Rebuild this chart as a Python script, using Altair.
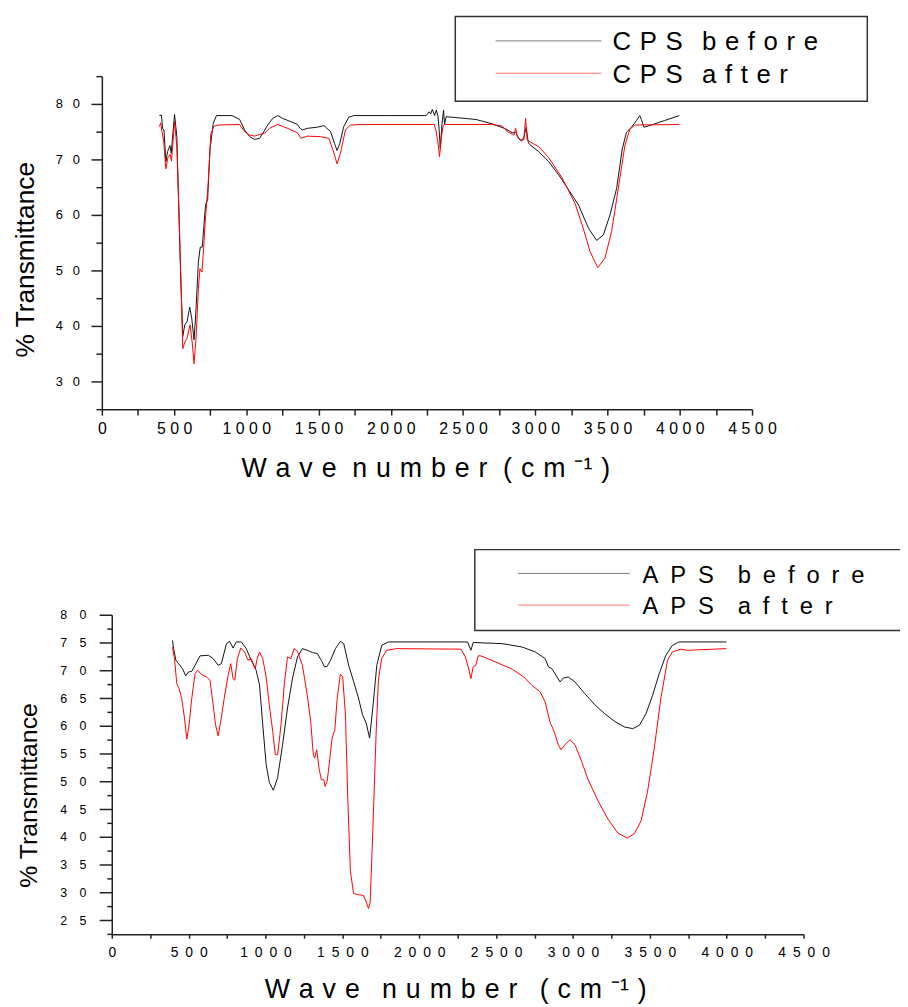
import altair as alt
import pandas as pd

FONT = "Liberation Sans"

# ---------------- data: (wave number cm-1, % transmittance) ----------------
cps_before = [
    (398, 77.9), (412, 78.0), (421, 75.5), (430, 75.3), (443, 69.6), (455, 71.4),
    (471, 72.5), (480, 71.1), (503, 78.1), (519, 74.1), (530, 63.4), (544, 50.3),
    (560, 38.1), (574, 40.2), (590, 40.8), (608, 43.4), (622, 41.4), (638, 37.5),
    (652, 43.1), (668, 51.5), (681, 54.2), (695, 54.2), (706, 58.0), (718, 61.9),
    (732, 62.7), (748, 71.7), (771, 76.5), (793, 77.9), (900, 77.9), (954, 77.2),
    (988, 75.3), (1023, 74.1), (1057, 73.6), (1091, 73.8), (1121, 75.0), (1148, 76.2),
    (1183, 77.4), (1217, 77.9), (1251, 77.4), (1308, 76.8), (1354, 76.3), (1372, 75.6),
    (1388, 75.3), (1422, 75.6), (1491, 75.8), (1537, 76.1), (1583, 75.0), (1610, 72.9),
    (1628, 71.6), (1647, 72.9), (1674, 75.9), (1709, 77.6), (1743, 77.9), (2000, 77.9),
    (2246, 77.9), (2265, 78.6), (2276, 78.2), (2287, 79.0), (2303, 77.9), (2315, 78.9),
    (2326, 77.8), (2333, 75.9), (2342, 72.0), (2354, 76.3), (2365, 78.9), (2372, 76.3),
    (2383, 77.7), (2589, 77.2), (2703, 76.4), (2795, 75.5), (2841, 74.8), (2864, 74.9),
    (2887, 73.7), (2905, 73.3), (2921, 74.0), (2937, 75.8), (2951, 73.1), (2960, 72.7),
    (3024, 71.4), (3093, 69.6), (3162, 67.2), (3231, 64.5), (3299, 61.8), (3368, 57.6),
    (3425, 55.4), (3471, 56.4), (3517, 60.0), (3563, 64.8), (3602, 71.9), (3631, 74.9),
    (3666, 75.8), (3700, 77.0), (3723, 77.9), (3734, 77.2), (3752, 75.8), (3803, 76.2),
    (3894, 77.0), (3997, 77.9),
]
cps_after = [
    (398, 75.9), (407, 76.6), (416, 75.0), (427, 73.5), (443, 68.3), (457, 70.3),
    (473, 70.9), (482, 69.7), (503, 76.8), (519, 72.3), (535, 59.8), (549, 46.7),
    (560, 35.9), (576, 37.2), (590, 37.8), (611, 40.2), (627, 36.6), (638, 33.2),
    (652, 37.8), (668, 46.7), (679, 50.3), (693, 49.7), (704, 53.8), (718, 59.8),
    (736, 65.7), (754, 74.6), (777, 76.0), (805, 76.2), (954, 76.3), (988, 75.0),
    (1023, 74.4), (1057, 74.2), (1091, 74.5), (1125, 74.7), (1160, 75.6), (1217, 76.3),
    (1285, 75.6), (1354, 74.8), (1377, 73.8), (1422, 74.2), (1514, 74.1), (1571, 73.8),
    (1601, 71.6), (1628, 69.2), (1651, 71.1), (1686, 75.3), (1720, 76.2), (1800, 76.3),
    (2300, 76.3), (2312, 75.3), (2326, 73.1), (2337, 70.5), (2349, 73.7), (2360, 75.9),
    (2372, 76.3), (2700, 76.3), (2772, 76.0), (2806, 75.0), (2852, 74.4), (2864, 75.6),
    (2876, 74.1), (2898, 73.5), (2921, 73.6), (2933, 77.4), (2944, 73.5), (2967, 73.1),
    (3024, 72.3), (3093, 70.3), (3185, 66.7), (3276, 62.0), (3333, 57.5), (3379, 53.4),
    (3432, 50.5), (3482, 52.2), (3528, 57.0), (3574, 64.7), (3620, 72.5), (3654, 75.4),
    (3689, 76.2), (3997, 76.3),
]
aps_before = [
    (395, 75.4), (402, 73.9), (417, 71.8), (434, 71.2), (460, 70.3), (481, 69.0),
    (499, 69.7), (520, 69.8), (542, 70.9), (574, 72.6), (628, 72.7), (660, 72.1),
    (692, 70.9), (713, 71.2), (746, 74.8), (767, 75.2), (789, 74.0), (810, 75.1),
    (843, 75.1), (875, 73.9), (907, 71.8), (939, 70.0), (961, 67.4), (982, 60.2),
    (1004, 53.1), (1025, 49.8), (1051, 48.4), (1079, 50.7), (1111, 56.6), (1143, 63.2),
    (1176, 68.6), (1208, 72.4), (1240, 73.9), (1272, 73.6), (1305, 73.2), (1337, 73.0),
    (1363, 71.8), (1384, 70.6), (1401, 70.7), (1423, 71.8), (1455, 73.9), (1487, 75.2),
    (1509, 74.8), (1541, 70.9), (1573, 68.0), (1605, 65.0), (1631, 62.0), (1655, 60.5),
    (1677, 57.8), (1698, 63.2), (1724, 70.9), (1756, 74.5), (1799, 75.1), (2315, 75.1),
    (2336, 73.6), (2351, 75.0), (2540, 74.8), (2668, 74.2), (2755, 73.3), (2819, 72.1),
    (2841, 70.6), (2862, 70.3), (2883, 69.4), (2916, 67.9), (2937, 68.6), (2969, 68.8),
    (3013, 67.9), (3077, 65.8), (3142, 63.8), (3206, 62.2), (3271, 60.8), (3335, 59.8),
    (3389, 59.5), (3432, 60.1), (3475, 62.2), (3518, 65.5), (3561, 69.4), (3604, 72.7),
    (3647, 74.5), (3690, 75.1), (3998, 75.1),
]
aps_after = [
    (395, 74.2), (408, 72.1), (423, 67.6), (438, 66.7), (455, 64.9), (473, 61.4),
    (488, 57.6), (503, 60.2), (520, 64.9), (542, 69.4), (559, 70.0), (585, 69.2),
    (617, 68.8), (639, 68.2), (660, 63.7), (675, 60.2), (692, 58.2), (709, 60.8),
    (731, 64.9), (757, 69.1), (774, 71.2), (789, 68.5), (800, 68.2), (817, 72.1),
    (839, 74.0), (864, 73.3), (886, 71.8), (907, 72.1), (933, 70.3), (946, 72.1),
    (961, 73.3), (982, 72.1), (1004, 68.8), (1025, 63.7), (1047, 59.0), (1064, 54.8),
    (1079, 54.8), (1101, 60.2), (1122, 67.4), (1143, 72.4), (1165, 72.1), (1186, 73.9),
    (1208, 73.4), (1240, 70.9), (1272, 65.5), (1294, 60.8), (1311, 54.8), (1320, 54.2),
    (1333, 55.7), (1348, 52.4), (1363, 50.3), (1380, 50.3), (1387, 49.1), (1401, 50.0),
    (1419, 54.2), (1433, 57.8), (1451, 59.3), (1466, 64.9), (1487, 69.3), (1502, 68.8),
    (1520, 62.0), (1535, 47.1), (1552, 33.9), (1573, 29.8), (1605, 29.6), (1637, 29.5),
    (1655, 28.3), (1670, 27.1), (1681, 28.3), (1698, 41.1), (1720, 59.0), (1735, 68.5),
    (1756, 72.1), (1788, 73.6), (1853, 73.9), (2272, 73.8), (2300, 72.4), (2319, 70.6),
    (2336, 68.5), (2351, 70.6), (2368, 70.9), (2383, 72.6), (2401, 72.6), (2497, 71.5),
    (2605, 70.2), (2680, 68.8), (2733, 67.3), (2787, 66.1), (2819, 64.3), (2852, 60.5),
    (2873, 59.3), (2905, 56.6), (2922, 55.7), (2948, 56.6), (2980, 57.5), (3013, 56.6),
    (3056, 53.6), (3099, 50.3), (3163, 46.5), (3228, 43.2), (3292, 40.7), (3353, 39.8),
    (3400, 40.6), (3443, 42.9), (3486, 48.3), (3529, 56.0), (3572, 65.0), (3615, 71.8),
    (3647, 73.3), (3701, 73.8), (3744, 73.6), (3998, 73.9),
]

top_names = ["CPS before", "CPS after"]
bottom_names = ["APS before", "APS after"]
line_colors = ["#111111", "#ff0000"]

x_ticks = list(range(0, 4501, 250))
top_y_ticks = list(range(25, 86, 5))
bottom_y_ticks = [22.5 + 2.5 * i for i in range(24)]

x_title_text = "Wave number (cm"
y_title_text = "% Transmittance"

# ---------------- helpers ----------------
def spaced(text, gap, word_gap):
    return word_gap.join(gap.join(list(w)) for w in text.split(" "))


def frame(names, series):
    rows = []
    for n, pts in zip(names, series):
        rows += [{"wn": x, "T": y, "sample": n} for x, y in pts]
    return pd.DataFrame(rows)


def x_axis(label_size, sep, tick_size, label_pad, title, title_x, title_y):
    return alt.Axis(
        values=x_ticks, format="d",
        labelExpr=f"datum.value % 500 == 0 ? join(split(datum.label, ''), '{sep}') : ''",
        labelFont=FONT, labelFontSize=label_size, labelColor="black",
        labelBaseline="alphabetic", labelPadding=label_pad,
        labelFlush=False, labelOverlap=False, labelBound=False,
        tickSize=tick_size, tickWidth=1.5, tickColor="#222",
        domainColor="#222", domainWidth=1.5, grid=False,
        title=title, titleFont=FONT, titleFontSize=27, titleFontWeight="normal",
        titleColor="black", titleX=title_x, titleY=title_y,
        titleAlign="center", titleBaseline="alphabetic",
    )


def y_axis(values, major, label_size, sep, major_tick, minor_tick, label_pad,
           title_size, title_x, title_y, offset=0):
    return alt.Axis(
        values=values, format="d", offset=offset,
        labelExpr=f"datum.value % {major} == 0 ? join(split(datum.label, ''), '{sep}') : ''",
        labelFont=FONT, labelFontSize=label_size, labelColor="black",
        labelAlign="right", labelBaseline="middle", labelPadding=label_pad,
        labelFlush=False, labelOverlap=False, labelBound=False,
        tickSize={"condition": {"test": f"datum.value % {major} == 0", "value": major_tick},
                  "value": minor_tick},
        tickWidth=1.5, tickColor="#222",
        domainColor="#222", domainWidth=1.5, grid=False,
        title=y_title_text, titleFont=FONT, titleFontSize=title_size,
        titleFontWeight="normal", titleColor="black",
        titleAngle=270, titleAlign="center", titleBaseline="alphabetic",
        titleX=title_x, titleY=title_y,
    )


def legend_layers(names, box, line_x, line_ys, text_x, text_ys, size, gap, wgap):
    one = pd.DataFrame({"k": [0]})
    layers = [
        alt.Chart(one).mark_rect(fill="white", stroke="#333", strokeWidth=1.5).encode(
            x=alt.value(box[0]), x2=alt.value(box[1]),
            y=alt.value(box[2]), y2=alt.value(box[3]))
    ]
    for name, col, ly, ty in zip(names, line_colors, line_ys, text_ys):
        layers.append(alt.Chart(one).mark_rule(color=col, strokeWidth=1, opacity=0.55).encode(
            x=alt.value(line_x[0]), x2=alt.value(line_x[1]), y=alt.value(ly)))
        layers.append(alt.Chart(one).mark_text(
            align="left", baseline="alphabetic", font=FONT, fontSize=size, color="black"
        ).encode(x=alt.value(text_x), y=alt.value(ty), text=alt.value(spaced(name, gap, wgap))))
    return layers


def x_title(gap, wgap):
    return spaced(x_title_text, gap, wgap) + gap + "\u207b\u00b9" + gap + ")"


# ---------------- top panel (CPS) ----------------
top_df = frame(top_names, [cps_before, cps_after])
top_lines = alt.Chart(top_df).mark_line(strokeWidth=1).encode(
    x=alt.X("wn:Q", scale=alt.Scale(domain=[0, 4500], range=[-10, 646], nice=False, zero=False),
            axis=x_axis(16, "\u00a0", 6, 19, x_title("\u2004", "\u2004\u2005"), 316.3, 67.7)),
    y=alt.Y("T:Q", scale=alt.Scale(domain=[25, 85], nice=False, zero=False),
            axis=y_axis(top_y_ticks, 10, 13, "\u2002\u2005", 11, 6, 11.7, 26.5, -69.4, 184.7,
                        offset=10)),
    color=alt.Color("sample:N", scale=alt.Scale(domain=top_names, range=line_colors), legend=None),
)
top = alt.layer(
    *legend_layers(top_names, (346.6, 762.3, -60.3, 25.4), (387.3, 494), (-35.6, -3.0),
                   505.3, (-26.3, 7.0), 26, "\u2004", "\u2002\u2005"),
    top_lines,
).properties(width=646, height=336)

# ---------------- bottom panel (APS) ----------------
bot_df = frame(bottom_names, [aps_before, aps_after])
bot_lines = alt.Chart(bot_df).mark_line(strokeWidth=1).encode(
    x=alt.X("wn:Q", scale=alt.Scale(domain=[0, 4500], nice=False, zero=False),
            axis=x_axis(14, "\u2002", 4, 18.7, x_title("\u2004", "\u2004\u2002"), 346.5, 63.7)),
    y=alt.Y("T:Q", scale=alt.Scale(domain=[22.5, 80], nice=False, zero=False),
            axis=y_axis(bottom_y_ticks, 5, 12.5, "\u2003", 12.7, 5, 13.3, 25, -75.7, 181.8)),
    color=alt.Color("sample:N", scale=alt.Scale(domain=bottom_names, range=line_colors),
                    legend=None),
)
bottom = alt.layer(
    *legend_layers(bottom_names, (366.3, 830, -65.7, 16.0), (410, 522.6), (-41.7, -9.7),
                   535.6, (-32.4, -0.7), 24, "\u2002", "\u2003"),
    bot_lines,
).properties(width=698, height=322.3)

chart = alt.concat(top, bottom, columns=1, spacing=207.4, bounds="flush").properties(
    autosize=alt.AutoSizeParams(type="none"),
    padding={"left": 104.7, "top": 64.3, "right": 900 - 104.7, "bottom": 999 - 64.3},
    background="white",
).configure_view(stroke=None)

chart.save("out.html", embed_options={"renderer": "svg", "actions": False})
